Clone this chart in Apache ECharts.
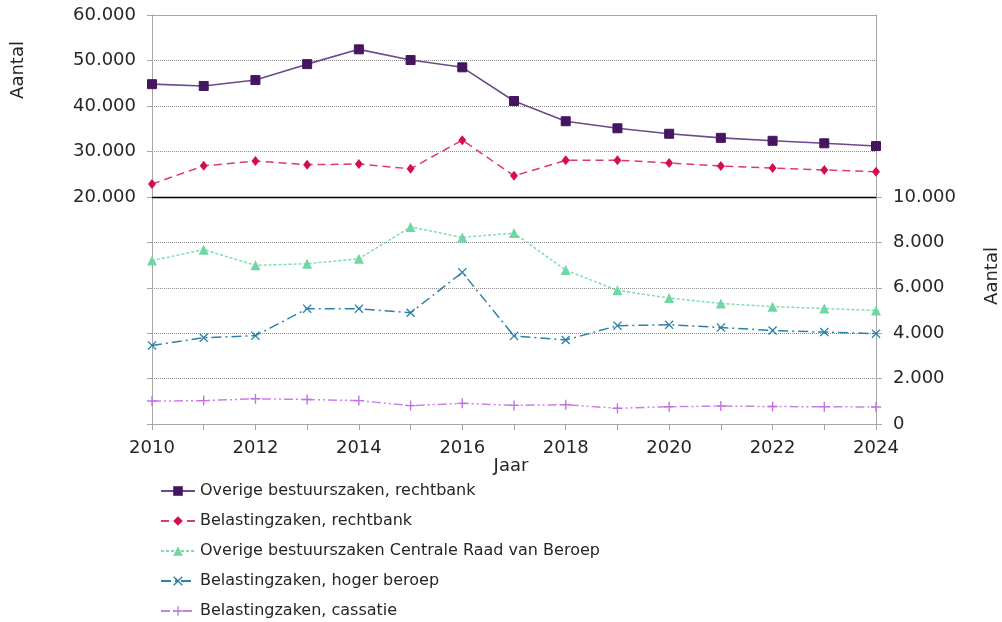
<!DOCTYPE html>
<html>
<head>
<meta charset="utf-8">
<script src="https://cdn.jsdelivr.net/npm/echarts@6/dist/echarts.min.js"></script>
<style>
html,body{margin:0;padding:0;background:#fff;}
#chart{width:1002px;height:622px;}
</style>
</head>
<body>
<div id="chart"></div>
<script>
var years = [2010,2011,2012,2013,2014,2015,2016,2017,2018,2019,2020,2021,2022,2023,2024];
var overigeRechtbank = [44800,44400,45700,49200,52450,50100,48500,41100,36650,35100,33900,33000,32350,31800,31200];
var belastingRechtbank = [22850,26850,27900,27100,27250,26200,32500,24650,28050,28100,27450,26800,26350,25950,25550];
var overigeCRvB = [7200,7680,6990,7060,7280,8680,8220,8410,6780,5890,5550,5310,5170,5090,5000];
var belastingHoger = [3460,3800,3890,5080,5080,4900,6680,3880,3700,4330,4370,4250,4120,4050,3980];
var belastingCassatie = [1010,1030,1110,1080,1030,810,910,820,850,690,760,790,770,760,750];
var seriesNames = [
  'Overige bestuurszaken, rechtbank',
  'Belastingzaken, rechtbank',
  'Overige bestuurszaken Centrale Raad van Beroep',
  'Belastingzaken, hoger beroep',
  'Belastingzaken, cassatie'
];
var leftTicks = [20000, 60000, 10000];
var rightTicks = [0, 10000, 2000];

function pairs(arr){ return years.map(function(y,i){ return [y, arr[i]]; }); }
function fmt(v){ return String(v).replace(/\B(?=(\d{3})+(?!\d))/g, '.'); }

var FONT = 'DejaVu Sans';
var TXT = '#262626';
var GRAY = '#a6a6a6';
var dotted = {show:true, lineStyle:{color:'#8c8c8c', type:[1,1], width:1}};

var plusPath = 'path://M4.3,0H5.7V4.3H10V5.7H5.7V10H4.3V5.7H0V4.3H4.3Z';
var crossPath = 'path://M1,0L5,4L9,0L10,1L6,5L10,9L9,10L5,6L1,10L0,9L4,5L0,1Z';

var chart = echarts.init(document.getElementById('chart'), null, {renderer:'canvas'});
var option = {
  backgroundColor:'#fff',
  animation:false,
  textStyle:{fontFamily:FONT},
  grid:[
    {left:152, right:126, top:15, height:182},
    {left:152, right:126, top:197, height:227}
  ],
  xAxis:[
    {gridIndex:0, type:'value', min:2010, max:2024, interval:1, position:'bottom',
     axisLine:{show:true, onZero:false, lineStyle:{color:'#000', width:1.3}},
     axisTick:{show:false}, axisLabel:{show:false}, splitLine:{show:false}},
    {gridIndex:0, type:'value', min:2010, max:2024, interval:1, position:'top',
     axisLine:{show:true, onZero:false, lineStyle:{color:GRAY, width:1}},
     axisTick:{show:false}, axisLabel:{show:false}, splitLine:{show:false}},
    {gridIndex:1, type:'value', min:2010, max:2024, interval:1, position:'bottom',
     axisLine:{show:true, onZero:false, lineStyle:{color:GRAY, width:1}},
     axisTick:{show:true, length:6, lineStyle:{color:GRAY}},
     axisLabel:{show:true, margin:15, color:TXT, fontSize:18, fontFamily:FONT,
       formatter:function(v){ return v % 2 === 0 ? String(v) : ''; }},
     splitLine:{show:false}}
  ],
  yAxis:[
    {gridIndex:0, type:'value', position:'left', min:leftTicks[0], max:leftTicks[1], interval:leftTicks[2],
     axisLine:{show:true, lineStyle:{color:GRAY}},
     axisTick:{show:true, length:5, lineStyle:{color:GRAY}},
     axisLabel:{show:true, margin:16, color:TXT, fontSize:18, fontFamily:FONT, formatter:fmt},
     splitLine:dotted},
    {gridIndex:0, type:'value', position:'right', min:leftTicks[0], max:leftTicks[1], interval:leftTicks[2],
     axisLine:{show:true, lineStyle:{color:GRAY}},
     axisTick:{show:false}, axisLabel:{show:false}, splitLine:{show:false}},
    {gridIndex:1, type:'value', position:'left', min:rightTicks[0], max:rightTicks[1], interval:rightTicks[2],
     axisLine:{show:true, lineStyle:{color:GRAY}},
     axisTick:{show:true, length:5, lineStyle:{color:GRAY}},
     axisLabel:{show:false},
     splitLine:dotted},
    {gridIndex:1, type:'value', position:'right', min:rightTicks[0], max:rightTicks[1], interval:rightTicks[2],
     axisLine:{show:true, lineStyle:{color:GRAY}},
     axisTick:{show:true, length:6, lineStyle:{color:GRAY}},
     axisLabel:{show:true, margin:17, color:TXT, fontSize:18, fontFamily:FONT, formatter:fmt},
     splitLine:{show:false}}
  ],
  legend:{
    orient:'vertical', left:160, top:482, height:150, padding:0,
    itemWidth:34, itemHeight:12, itemGap:12,
    textStyle:{color:TXT, fontSize:16, fontFamily:FONT, lineHeight:18},
    data:seriesNames
  },
  graphic:[
    {type:'text', x:18, y:70, rotation:Math.PI/2,
     style:{text:'Aantal', fill:TXT, font:'18px "DejaVu Sans"', textAlign:'center', textVerticalAlign:'middle'}},
    {type:'text', x:992, y:276, rotation:Math.PI/2,
     style:{text:'Aantal', fill:TXT, font:'18px "DejaVu Sans"', textAlign:'center', textVerticalAlign:'middle'}},
    {type:'text', x:511, y:466,
     style:{text:'Jaar', fill:TXT, font:'18px "DejaVu Sans"', textAlign:'center', textVerticalAlign:'middle'}}
  ],
  series:[
    {name:seriesNames[0], type:'line', xAxisIndex:0, yAxisIndex:0, data:pairs(overigeRechtbank),
     symbol:'rect', symbolSize:9, showAllSymbol:true,
     lineStyle:{color:'#6a4a8c', width:1.6, type:'solid'},
     itemStyle:{color:'#45165f', borderColor:'#45165f'}},
    {name:seriesNames[1], type:'line', xAxisIndex:0, yAxisIndex:0, data:pairs(belastingRechtbank),
     symbol:'diamond', symbolSize:[8,10], showAllSymbol:true,
     lineStyle:{color:'#e0386a', width:1.5, type:[8,5]},
     itemStyle:{color:'#d4104a'}},
    {name:seriesNames[2], type:'line', xAxisIndex:2, yAxisIndex:2, data:pairs(overigeCRvB),
     symbol:'triangle', symbolSize:10, showAllSymbol:true,
     lineStyle:{color:'#76dcaa', width:1.4, type:[3,2]},
     itemStyle:{color:'#6fd6a4'}},
    {name:seriesNames[3], type:'line', xAxisIndex:2, yAxisIndex:2, data:pairs(belastingHoger),
     symbol:crossPath, symbolSize:9, showAllSymbol:true,
     lineStyle:{color:'#2b83a6', width:1.5, type:[10,4,2,4]},
     itemStyle:{color:'#2b7fa3'}},
    {name:seriesNames[4], type:'line', xAxisIndex:2, yAxisIndex:2, data:pairs(belastingCassatie),
     symbol:plusPath, symbolSize:10, showAllSymbol:true,
     lineStyle:{color:'#cc80e6', width:1.5, type:[9,3,2,3,2,3]},
     itemStyle:{color:'#c273e0'}}
  ]
};
chart.setOption(option);
</script>
</body>
</html>
